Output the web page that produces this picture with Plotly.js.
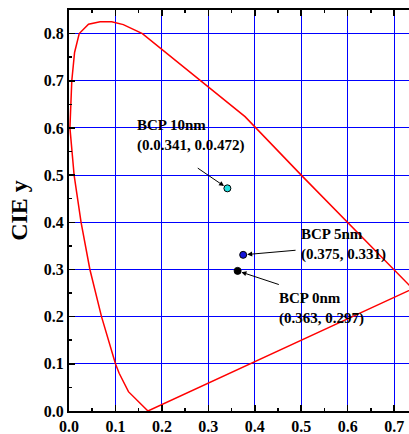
<!DOCTYPE html>
<html>
<head>
<meta charset="utf-8">
<script src="https://cdn.plot.ly/plotly-3.0.1.min.js"></script>
<style>
html,body{margin:0;padding:0;background:#fff;}
#chart{width:409px;height:434px;}
</style>
</head>
<body>
<div id="chart"></div>
<script>
// Spectral locus
const locusX = [0.170, 0.128, 0.108, 0.100, 0.070, 0.045, 0.026, 0.011, 0.002, 0.006, 0.012, 0.022, 0.042, 0.067, 0.092, 0.117, 0.158, 0.379, 0.500, 0.600, 0.699, 0.740, 0.170];
const locusY = [0.000, 0.041, 0.080, 0.100, 0.200, 0.300, 0.400, 0.500, 0.600, 0.700, 0.760, 0.800, 0.820, 0.825, 0.825, 0.819, 0.800, 0.624, 0.500, 0.400, 0.300, 0.259, 0.000];

// Measured points
const sampleNames = ["BCP 10nm", "BCP 5nm", "BCP 0nm"];
const sampleX = [0.341, 0.375, 0.363];
const sampleY = [0.472, 0.331, 0.297];
const sampleLabels = ["(0.0.341, 0.0.472)", "(0.375, 0.331)", "(0.363, 0.297)"];
const sampleColors = ["#22e0e0", "#1414d8", "#000000"];

// Label / arrow-tail positions (data coordinates)
const labelX = [0.143, 0.495, 0.447];
const labelY = [0.583, 0.352, 0.217];
const arrowTailX = [0.274, 0.491, 0.455];
const arrowTailY = [0.517, 0.341, 0.267];

const tickVals = [0, 0.1, 0.2, 0.3, 0.4, 0.5, 0.6, 0.7, 0.8];

const font = "Liberation Serif, Times New Roman, serif";

const traces = [
  {
    x: locusX, y: locusY, mode: "lines", type: "scatter",
    line: {color: "#ff0000", width: 1.5},
    hoverinfo: "skip", showlegend: false
  },
  {
    x: sampleX, y: sampleY, mode: "markers", type: "scatter",
    marker: {size: 7, color: sampleColors, line: {color: "#000000", width: 1}},
    showlegend: false
  }
];

const annotations = [];
for (let i = 0; i < sampleNames.length; i++) {
  annotations.push({
    x: labelX[i], y: labelY[i], xref: "x", yref: "y",
    xanchor: "left", yanchor: "middle", align: "left",
    text: "<b>" + sampleNames[i] + "<br>" + sampleLabels[i] + "</b>",
    showarrow: false,
    font: {family: font, size: 15, color: "#000"}
  });
  annotations.push({
    x: sampleX[i], y: sampleY[i], xref: "x", yref: "y",
    ax: arrowTailX[i], ay: arrowTailY[i], axref: "x", ayref: "y",
    text: "", showarrow: true, arrowhead: 2, arrowsize: 1, arrowwidth: 1,
    arrowcolor: "#000", standoff: 4
  });
}

const axisCommon = {
  showline: true, linecolor: "#000", linewidth: 2,
  ticks: "inside", ticklen: 6, tickwidth: 1.5, tickcolor: "#000",
  showgrid: true, gridcolor: "#0000ff", gridwidth: 1,
  zeroline: false,
  tickfont: {family: font, size: 16, color: "#000", weight: "bold"},
  tickformat: ".1f",
  minor: {dtick: 0.05, ticks: "inside", ticklen: 3, tickcolor: "#000", showgrid: false}
};

const layout = {
  width: 409, height: 434,
  margin: {l: 69, r: 0, t: 10, b: 23},
  paper_bgcolor: "#fff", plot_bgcolor: "#fff",
  showlegend: false,
  xaxis: Object.assign({}, axisCommon, {
    range: [0, 0.732], tickvals: tickVals.slice(0, 8), mirror: "ticks"
  }),
  yaxis: Object.assign({}, axisCommon, {
    range: [0, 0.85], tickvals: tickVals,
    title: {text: "<b>CIE y</b>", font: {family: font, size: 24, color: "#000"}, standoff: 9}
  }),
  annotations: annotations
};

Plotly.newPlot("chart", traces, layout, {displayModeBar: false, staticPlot: true});
</script>
</body>
</html>
